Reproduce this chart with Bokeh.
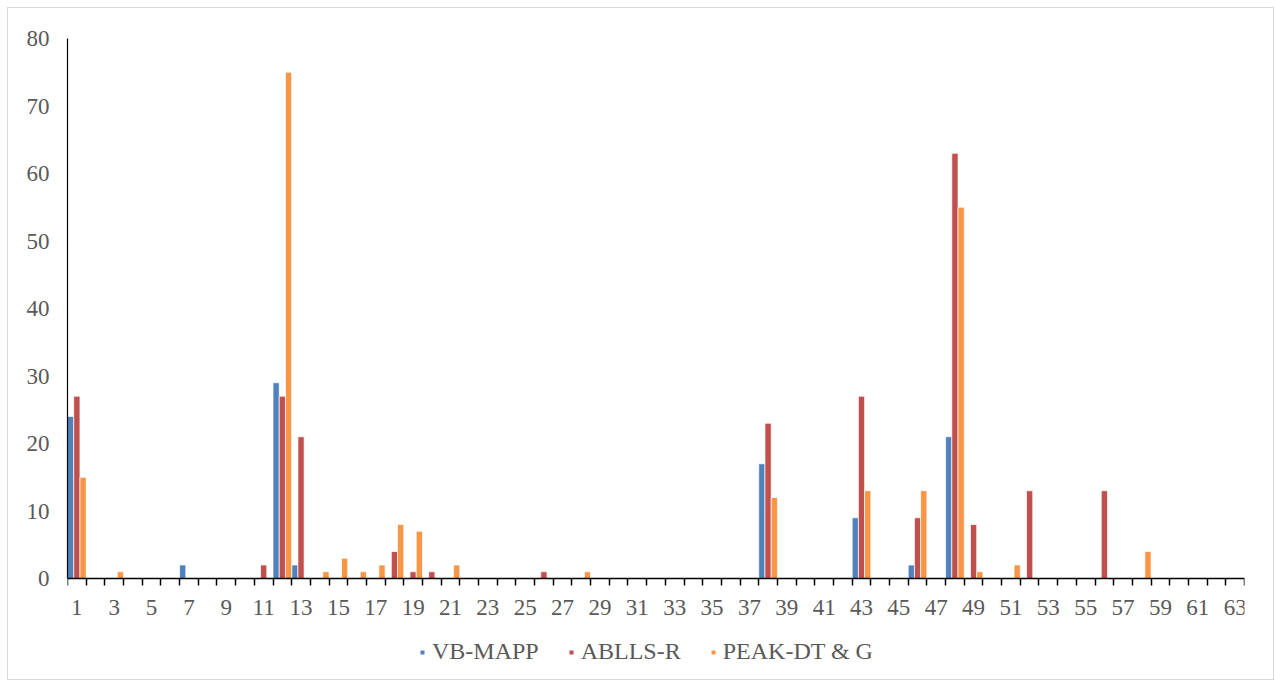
from bokeh.plotting import figure
from bokeh.models import ColumnDataSource, FixedTicker, Legend, LegendItem, Range1d
from bokeh.transform import dodge
from bokeh.embed import file_html
from bokeh.resources import INLINE

categories = list(range(1, 64))

vb_mapp = [24, 0, 0, 0, 0, 0, 2, 0, 0, 0,
           0, 29, 2, 0, 0, 0, 0, 0, 0, 0,
           0, 0, 0, 0, 0, 0, 0, 0, 0, 0,
           0, 0, 0, 0, 0, 0, 0, 17, 0, 0,
           0, 0, 9, 0, 0, 2, 0, 21, 0, 0,
           0, 0, 0, 0, 0, 0, 0, 0, 0, 0,
           0, 0, 0]

ablls_r = [27, 0, 0, 0, 0, 0, 0, 0, 0, 0,
           2, 27, 21, 0, 0, 0, 0, 4, 1, 1,
           0, 0, 0, 0, 0, 1, 0, 0, 0, 0,
           0, 0, 0, 0, 0, 0, 0, 23, 0, 0,
           0, 0, 27, 0, 0, 9, 0, 63, 8, 0,
           0, 13, 0, 0, 0, 13, 0, 0, 0, 0,
           0, 0, 0]

peak_dt_g = [15, 0, 1, 0, 0, 0, 0, 0, 0, 0,
             0, 75, 0, 1, 3, 1, 2, 8, 7, 0,
             2, 0, 0, 0, 0, 0, 0, 1, 0, 0,
             0, 0, 0, 0, 0, 0, 0, 12, 0, 0,
             0, 0, 13, 0, 0, 13, 0, 55, 1, 0,
             2, 0, 0, 0, 0, 0, 0, 4, 0, 0,
             0, 0, 0]

series_names = ["VB-MAPP", "ABLLS-R", "PEAK-DT & G"]
series_colors = ["#4F81BD", "#C0504D", "#F79646"]
x_tick_labels = [c for c in categories if c % 2 == 1]
y_ticks = [0, 10, 20, 30, 40, 50, 60, 70, 80]

source = ColumnDataSource(dict(cat=categories, vb=vb_mapp, ab=ablls_r, pk=peak_dt_g))

FONT = "Liberation Serif"
GRAY = "#595959"

# frame extends below zero so the legend can sit inside it
p = figure(
    x_range=Range1d(0.5, len(categories) + 0.5),
    y_range=Range1d(-94 / 6.75, 80),
    frame_width=1177, frame_height=634,
    min_border_left=59, min_border_right=29, min_border_top=30, min_border_bottom=7,
    output_backend="svg", toolbar_location=None,
    background_fill_color="white", border_fill_color="white",
)
p.margin = (7, 0, 0, 7)
p.styles = {"border": "1px solid #d9d9d9"}
p.outline_line_color = None
p.grid.visible = False

bw = 1 / 3
legend_renderers = []
for key, off, col in zip(["vb", "ab", "pk"], [-bw, 0, bw], series_colors):
    p.vbar(x=dodge("cat", off), top=key, width=bw, bottom=0, source=source,
           fill_color=col, line_color="white", line_width=1, line_alpha=0.7)
    # legend swatch: square marker whose single point is NaN (never drawn in the plot)
    swatch = p.scatter(x="x", y="y",
                       source=ColumnDataSource(dict(x=[float("nan")], y=[float("nan")])),
                       marker="square", size=10, fill_color=col, line_color=None)
    legend_renderers.append(swatch)

# x axis at y = 0
xa = p.xaxis[0]
xa.fixed_location = 0
xa.ticker = FixedTicker(ticks=x_tick_labels,
                        minor_ticks=[c - 0.5 for c in categories] + [categories[-1] + 0.5])
xa.major_tick_out = 0
xa.major_tick_in = 0
xa.minor_tick_out = 7
xa.minor_tick_in = 0
xa.minor_tick_line_color = "black"
xa.minor_tick_line_width = 1.5
xa.axis_line_color = "black"
xa.axis_line_width = 1.5
xa.major_label_standoff = 14
xa.major_label_text_font = FONT
xa.major_label_text_font_size = "23px"
xa.major_label_text_color = GRAY

# y axis
ya = p.yaxis[0]
ya.bounds = (0, 80)
ya.ticker = FixedTicker(ticks=y_ticks, minor_ticks=[])
ya.major_tick_out = 0
ya.major_tick_in = 0
ya.minor_tick_out = 0
ya.minor_tick_in = 0
ya.axis_line_color = "black"
ya.axis_line_width = 1.2
ya.major_label_standoff = 18
ya.major_label_text_font = FONT
ya.major_label_text_font_size = "23px"
ya.major_label_text_color = GRAY

legend = Legend(
    items=[LegendItem(label=n, renderers=[r], index=0) for n, r in zip(series_names, legend_renderers)],
    orientation="horizontal", location=(350, 7),
    label_text_font=FONT, label_text_font_size="24px", label_text_color=GRAY,
    glyph_width=10, glyph_height=10, label_standoff=5, spacing=27,
    border_line_color=None, background_fill_alpha=0, margin=0, padding=0,
)
p.add_layout(legend, "center")

open("out.html", "w").write(file_html(p, INLINE))
